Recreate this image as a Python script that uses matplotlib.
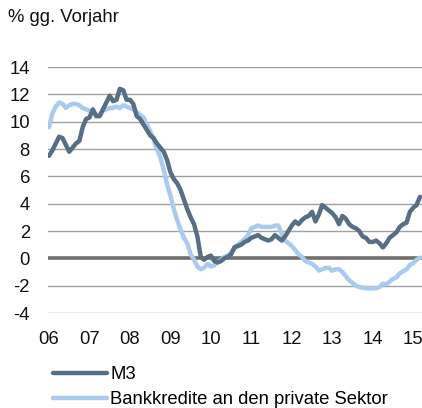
import matplotlib.pyplot as plt

plt.rcParams['font.family'] = ['Liberation Sans', 'DejaVu Sans']

# monthly values Jan 2006 .. Mar 2015
m3 = [7.5, 7.9, 8.4, 8.9, 8.8, 8.3, 7.8, 8.1, 8.4, 8.6, 9.6, 10.2,
      10.3, 10.9, 10.4, 10.4, 10.9, 11.4, 11.9, 11.5, 11.6, 12.4, 12.3, 11.6,
      11.6, 11.3, 10.4, 10.2, 9.8, 9.4, 9.0, 8.8, 8.4, 8.1, 7.8, 7.2,
      6.3, 5.8, 5.5, 5.0, 4.3, 3.6, 3.0, 2.5, 1.6, 0.1, -0.1, 0.1,
      0.2, -0.2, -0.3, -0.2, 0.0, 0.1, 0.3, 0.8, 0.9, 1.0, 1.2, 1.3,
      1.5, 1.6, 1.7, 1.5, 1.4, 1.3, 1.4, 1.7, 1.5, 1.3, 1.6, 2.0,
      2.4, 2.7, 2.5, 2.8, 3.0, 3.1, 3.4, 2.7, 3.2, 3.9, 3.7, 3.5,
      3.3, 3.0, 2.5, 3.1, 2.9, 2.5, 2.3, 2.2, 2.0, 1.6, 1.5, 1.2,
      1.2, 1.3, 1.1, 0.8, 1.1, 1.5, 1.7, 1.9, 2.3, 2.5, 2.6, 3.4,
      3.7, 3.9, 4.5]

kredite = [9.6, 10.6, 11.1, 11.4, 11.3, 11.0, 11.2, 11.3, 11.3, 11.2, 11.0, 10.9,
           10.8, 10.7, 10.5, 10.5, 10.8, 10.9, 11.0, 11.0, 11.1, 11.0, 11.2, 11.1,
           11.0, 10.9, 10.7, 10.5, 10.3, 9.8, 9.3, 8.7, 8.0, 7.4, 6.5, 5.4,
           4.6, 3.6, 2.8, 2.1, 1.5, 1.1, 0.3, -0.1, -0.6, -0.8, -0.7, -0.4,
           -0.6, -0.5, -0.3, -0.1, 0.1, 0.2, 0.4, 0.8, 1.0, 1.2, 1.4, 1.7,
           2.2, 2.3, 2.4, 2.3, 2.3, 2.3, 2.3, 2.4, 2.4, 1.8, 1.3, 1.1,
           0.9, 0.6, 0.3, 0.1, -0.2, -0.3, -0.4, -0.6, -0.9, -0.8, -0.7, -0.7,
           -0.9, -0.8, -0.8, -1.0, -1.3, -1.6, -1.8, -2.0, -2.1, -2.15, -2.2, -2.2,
           -2.2, -2.2, -2.1, -1.85, -1.9, -1.7, -1.5, -1.4, -1.1, -0.95, -0.8, -0.5,
           -0.35, -0.1, 0.05]

year_labels = ['06', '07', '08', '09', '10', '11', '12', '13', '14', '15']
yticks = [-4, -2, 0, 2, 4, 6, 8, 10, 12, 14]

months = list(range(len(m3)))
fs = 13.3

fig = plt.figure(figsize=(4.22, 4.08), dpi=100)
ax = fig.add_axes([48/422, 1-313/408, 1-48/422, (313-67)/408])

for v in yticks:
    if v == 0:
        ax.axhline(v, color='#707070', lw=2.6, zorder=1)
    else:
        ax.axhline(v, color='#a0a0a0', lw=1.0, zorder=1)

ax.plot(months, m3, color='#576e84', lw=3.2, label='M3', zorder=3,
        solid_capstyle='round')
ax.plot(months, kredite, color='#aacbee', lw=3.2,
        label='Bankkredite an den private Sektor', zorder=2,
        solid_capstyle='round')

ax.set_xlim(-0.3, 110.6)
ax.set_ylim(-4, 14)
ax.set_yticks(yticks)
ax.set_yticklabels([str(v) for v in yticks])
ax.set_xticks([12*i for i in range(len(year_labels))])
ax.set_xticklabels(year_labels)
ax.tick_params(axis='both', length=0, labelsize=fs, colors='#111111')
ax.tick_params(axis='y', pad=13)
ax.tick_params(axis='x', pad=13)
for s in ax.spines.values():
    s.set_visible(False)

fig.text(8/422, 1-18/408, '% gg. Vorjahr', fontsize=fs, va='center',
         ha='left', color='#111111')

fig.legend(loc='upper left', bbox_to_anchor=(53/422, 1-366/408),
           frameon=False, fontsize=fs, handlelength=2.9,
           handletextpad=0.2, labelspacing=0.45, borderpad=0,
           borderaxespad=0)

fig.savefig('out.png', dpi=100)
